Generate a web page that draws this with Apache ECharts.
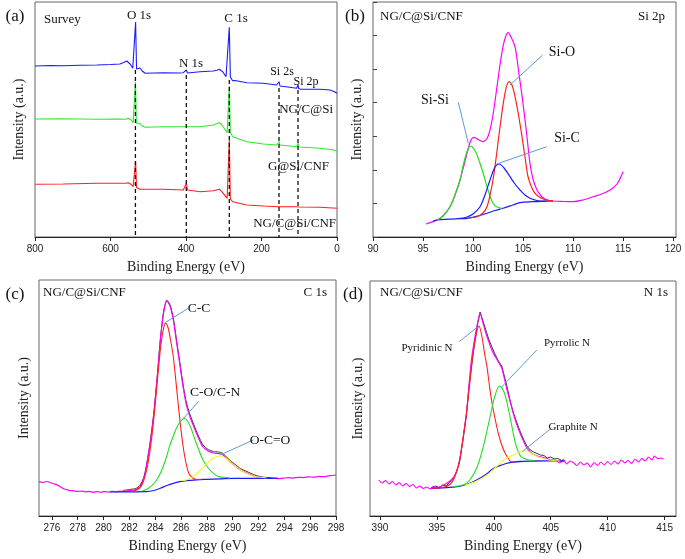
<!DOCTYPE html>
<html>
<head>
<meta charset="utf-8">
<script src="https://cdn.jsdelivr.net/npm/echarts@6/dist/echarts.min.js"></script>
<style>html,body{margin:0;padding:0;background:#fff}#c{width:685px;height:559px}</style>
</head>
<body>
<div id="c"></div>
<script>
// ---------- Panel (a) Survey: [binding energy, intensity] ----------
const surveyBlue = [[800,171],[760,171.5],[725,171.3],[680,171.8],[636,172],[600,172.5],[575,173],[565,174.5],[557,176],[548,173],[541,168.7],[536,170],[533.5,215],[531,168],[528,168.5],[522,169],[516,166],[508,163.7],[460,164.3],[420,164],[407,164.3],[402,165],[399,167],[396,164],[391,163.7],[363,165.3],[328,166],[318,166.8],[311.8,167.7],[302.8,165.3],[294,160.3],[289,162],[285.3,209.7],[282.5,160],[281.8,158.7],[276.5,156.3],[270,156.5],[239,154.3],[195,153.7],[160,152],[156,152.5],[153.6,155.3],[151,151],[130,150],[107,148.7],[104.5,149.5],[103.3,152],[101.5,148.5],[96,147.7],[45,147.7],[18.5,147],[8,145.5],[0,143.7]];
const surveyGreen = [[800,118],[725,118.2],[637,117.7],[580,117.9],[560,117.7],[553,118.7],[545,117],[540,114.3],[536,115],[534,155],[531.5,114],[529,113],[522,113.5],[516,111],[508,109.7],[460,110.3],[400,110.3],[391,110.3],[363,110.3],[328,112],[311,114.3],[305,112],[291,104.3],[288,106],[285.3,151],[282.5,104.5],[281,103.7],[276,100.3],[272,101],[239,95.3],[195,93],[160,92],[156,92.3],[153.6,95.3],[151,92],[107,90.3],[104.5,90.5],[103.3,93.7],[101.5,90],[45,88.7],[18,87.5],[0,86.3]];
const surveyRed = [[800,52.7],[725,53],[637,53.7],[560,53.7],[553,54.3],[545,52.5],[540,50.3],[536,51],[533.5,76],[531,49.5],[529,48.7],[522,47.7],[460,47.7],[407,47],[402,47.2],[399,53.7],[396,47],[391,47],[363,45.3],[328,46.3],[311,47.7],[305,45.3],[291,38.7],[288,40],[285.3,97],[282.5,38],[281,37],[276.5,35.3],[273,36],[239,32],[195,31],[156,30.3],[153.6,31],[151,30.3],[107,30.3],[103.3,31.5],[101.5,30],[45,29.7],[0,28.7]];
// peak reference lines: [energy, top intensity]
const peakLines = [[534,167],[399.2,162],[285.3,157],[153.6,149],[103.3,147]];

// ---------- Panel (b) Si 2p ----------
const si2pEnvelope = [[95.3,13],[96.4,17],[97,21],[97.7,30.3],[98.2,42],[98.7,57],[99.1,72],[99.4,83.7],[99.8,97],[100.1,99.7],[100.5,97.5],[101,95.3],[101.4,98.5],[101.7,107],[102,122],[102.4,150.3],[102.7,172],[103,190.3],[103.25,200],[103.5,204.3],[103.8,200],[104.2,190.3],[104.6,163],[105,133.7],[105.4,100],[105.7,73.7],[106,58],[106.4,47],[106.9,40],[107.4,37],[108,36],[109,35.5],[110,35.3],[111,37],[112,40.3],[113,43.5],[113.7,47],[114.4,53],[115,65.3]];
const si2pSiSi = [[96.4,17],[97,21],[97.7,30.3],[98.2,42],[98.7,57],[99.1,75],[99.5,88],[99.8,91],[100.1,88],[100.4,82],[100.7,73.7],[101.1,61],[101.4,50.3],[101.7,41],[102,33.7],[102.4,30],[102.9,28.7]];
const si2pSiO = [[99.5,19],[100.4,20.3],[101,24],[101.4,30.3],[101.7,42],[102,57],[102.35,82],[102.7,110],[103.2,143.7],[103.6,155.3],[103.9,152],[104.2,140.3],[104.55,122],[104.9,100.3],[105.2,80],[105.5,60.3],[105.85,50],[106.2,43.7],[106.8,39],[107.4,37],[108,36]];
const si2pSiC = [[98.5,18.3],[99.4,20],[100,23],[100.7,30.3],[101.2,42],[101.7,57],[102.2,70],[102.6,73],[103.1,69],[103.7,60.3],[104.2,53],[104.7,47],[105.2,42],[105.7,38.7],[106.2,37],[106.7,36],[107.3,36]];
const si2pBaseline = [[96,16],[96.4,17],[97.5,17.8],[98.5,18.3],[99.4,18.7],[100.5,21],[101.4,23.7],[102.2,26.5],[103,28.7],[104,32],[104.7,34.3],[106,35.3],[107,35.7],[108,36]];

// ---------- Panel (c) C 1s ----------
const c1sEnvelope = [[275,34.3],[275.3,33.5],[275.6,34.5],[275.9,33.2],[276.2,32],[276.5,30.5],[276.8,28],[277.1,26.5],[277.4,25.5],[277.7,25.2],[278,24.6],[278.3,24.9],[278.6,24.2],[278.9,24.6],[279.2,23.8],[279.5,24.3],[279.8,23.7],[280.1,24.4],[280.4,24.0],[280.7,24.6],[281,24.3],[281.3,24.8],[281.6,24.6],[281.9,25.2],[282.2,25.5],[282.5,26.5],[282.8,29],[283.1,37],[283.3,48],[283.6,72],[283.9,103],[284.2,145],[284.4,176],[284.65,203],[284.9,215],[285.15,210],[285.4,196],[285.65,174],[285.9,152],[286.15,130],[286.4,112],[286.7,99],[287,89],[287.35,78],[287.7,69],[288.1,65],[288.5,63],[288.9,62.5],[289.2,61.5],[289.5,58],[289.8,54],[290.2,50],[290.6,46],[291.1,43],[291.6,40],[292.1,38.5],[292.6,37.7],[293.1,37.9],[293.5,37.4],[293.9,37.8],[294.3,38.3],[294.7,37.9],[295.1,38.7],[295.5,38.4],[295.9,39.2],[296.3,38.8],[296.7,39.6],[297.1,39.3],[297.5,40.3],[298,41]];
const c1sData = [[281.5,25.5],[282,26.5],[282.5,27.5],[282.8,30.5],[283.1,38],[283.3,49],[283.6,73],[283.9,104],[284.2,146],[284.4,177],[284.65,205],[284.9,216],[285.15,211],[285.4,198],[285.65,176],[285.9,154],[286.15,132],[286.4,114],[286.7,101],[287,91],[287.35,80],[287.7,71],[288.1,66.5],[288.5,64.5],[288.9,64],[289.2,63],[289.5,59.5],[289.8,55.5],[290.2,51.5],[290.6,47.5],[291.1,44.5],[291.6,41.5],[292.1,39.5],[292.6,38.5],[293,38.5]];
const c1sCC = [[282.3,25],[282.8,28],[283.1,35],[283.4,50],[283.7,75],[283.95,105],[284.2,140],[284.45,172],[284.65,188],[284.8,192.7],[285,188],[285.2,175],[285.4,159.3],[285.6,135],[285.8,109.3],[286,86],[286.2,66],[286.4,52],[286.6,42.7],[286.9,38],[287.2,36.5],[287.6,36.6]];
const c1sCO = [[283,25],[283.5,28],[284,34],[284.4,42.7],[284.8,56],[285.1,69.3],[285.4,80],[285.7,89.3],[286,95],[286.25,97.7],[286.5,95],[286.8,87],[287,79.3],[287.35,67],[287.7,56],[288.1,48],[288.5,42.7],[288.9,39.5],[289.3,38.7],[289.8,38]];
const c1sOCO = [[286,35.5],[286.4,36],[287,40],[287.5,46],[287.9,51],[288.3,56],[288.7,59],[289,60],[289.4,58.5],[289.8,54],[290.2,50],[290.6,46],[291.1,42.5],[291.6,40],[292.1,38.7],[292.6,38]];
const c1sBaseline = [[280.5,24],[281,24],[282,24.1],[283.3,24.3],[283.9,25.5],[284.4,27.7],[284.9,30.5],[285.4,32.7],[285.9,34.3],[286.4,35.3],[287.2,36.2],[288,36.7],[289,37.2],[290.1,37.7],[291.5,37.7],[292.6,37.7],[293.5,37.8]];

// ---------- Panel (d) N 1s ----------
const n1sEnvelope = [[389.9,36],[390.2,33],[390.5,35.5],[390.8,32],[391.1,34.5],[391.4,31],[391.7,33.5],[392,30],[392.3,32.5],[392.6,29.5],[392.9,31.5],[393.2,28],[393.5,30],[393.8,27.5],[394.1,29],[394.4,27],[394.7,29.5],[395,28],[395.3,29.5],[395.6,31],[395.9,33],[396.2,35.5],[396.5,39.3],[396.8,47],[397,56],[397.3,78],[397.6,103],[397.8,128],[398,153],[398.25,173],[398.5,189],[398.8,203],[399.05,193],[399.3,183],[399.6,173],[399.9,164],[400.3,156],[400.7,148],[400.9,139],[401.1,129],[401.4,116],[401.7,103],[402,92],[402.3,83],[402.6,75],[402.9,68],[403.2,64],[403.5,61.5],[403.8,60],[404.1,59.3],[404.5,58],[404.9,56.5],[405.2,56],[405.5,55.3],[405.8,53],[406.1,56.5],[406.4,52],[406.7,55],[407,53.3],[407.3,50.5],[407.6,54],[407.9,51],[408.2,53],[408.5,49],[408.8,53.5],[409.1,50.5],[409.4,54],[409.7,51],[410,54.5],[410.3,51.5],[410.6,55],[410.9,52],[411.2,56],[411.5,53],[411.8,55.5],[412.1,52.5],[412.4,57],[412.7,54],[413,57.5],[413.3,55],[413.6,59],[413.9,56],[414.1,60],[414.4,57.5],[414.7,58],[414.9,56.7]];
const n1sData = [[394.6,28],[394.9,30],[395.2,28.5],[395.5,31],[395.8,30],[396.1,33.5],[396.4,36],[396.7,43],[397,54],[397.3,76],[397.6,101],[397.8,127],[398.05,150],[398.3,172],[398.55,190],[398.8,204],[399.05,195],[399.3,186],[399.55,177],[399.8,170],[400.1,162],[400.4,155],[400.7,150],[400.9,141],[401.15,130],[401.4,117],[401.7,104],[402,94],[402.3,85],[402.6,77],[402.9,70],[403.2,66],[403.5,64],[403.8,62.5],[404.1,61],[404.4,60.5],[404.7,58],[405,59],[405.3,57],[405.6,57.5],[405.9,56]];
const n1sPyridinic = [[394.5,27.7],[395.5,28.5],[396.2,32],[396.6,40],[397,56],[397.3,78],[397.6,103],[397.85,128],[398.1,155],[398.4,178],[398.7,190],[398.95,180],[399.2,162],[399.4,149.3],[399.6,132],[399.8,116],[400.1,98],[400.4,82.7],[400.7,71],[401,62.7],[401.3,57],[401.5,54.3],[401.8,54]];
const n1sPyrrolic = [[396.5,29.5],[397.3,31],[397.9,36],[398.5,48],[399,66],[399.4,85],[399.8,106],[400.1,120],[400.5,130],[400.9,124],[401.3,106],[401.6,89],[401.9,72.7],[402.2,63],[402.4,59.3],[402.8,57],[403.1,56],[403.6,55.5]];
const n1sGraphite = [[397.5,31],[398.5,35],[399.4,41],[400.2,49],[400.9,56],[401.5,60],[401.9,62],[402.3,64.5],[402.6,65.3],[403,64.5],[403.4,62],[403.9,59],[404.6,56.7],[405.2,55.5],[405.8,55]];
const n1sBaseline = [[394.5,27.7],[395.5,28.2],[396.8,29.3],[397.7,32],[398.5,36],[399.3,41.5],[400,47.7],[400.7,51],[401.4,53.3],[402.3,54.5],[403.4,55],[404.5,55.2],[405.3,55.2],[406.2,55]];

// annotation leader lines (data coordinates)
const leadersB = [[[106.97,182],[103.7,152]],[[98.53,134.7],[99.53,93.7]],[[107.37,90.3],[102.37,73]]];
const leadersC = [[[286.56,207.7],[284.76,193.3]],[[287.34,114.3],[286.13,96.7]],[[291.6,76],[289.02,61]]];
const leadersD = [[[396.95,174.3],[398.53,188.7]],[[403.78,166],[400.66,128.7]],[[405.04,87.7],[402.5,64.3]]];

// tick labels
const ticksA = [0,200,400,600,800];
const ticksB = [90,95,100,105,110,115,120];
const ticksC = [276,278,280,282,284,286,288,290,292,294,296,298];
const ticksD = [390,395,400,405,410,415];

const SERIF = 'Liberation Serif';
const SANS = 'Liberation Sans';
const chart = echarts.init(document.getElementById('c'), null, {renderer:'canvas'});

function xAx(idx, min, max, ticks, inverse){
  return {type:'value', gridIndex:idx, min:min, max:max, inverse:!!inverse,
    name:'Binding Energy (eV)', nameLocation:'middle', nameGap:23,
    nameTextStyle:{fontFamily:SERIF, fontSize:14, color:'#222'},
    axisLine:{show:true, onZero:false, lineStyle:{color:'#222', width:1}},
    axisTick:{show:true, length:4, inside:false, customValues:ticks, lineStyle:{color:'#222'}},
    axisLabel:{show:true, customValues:ticks, fontFamily:SANS, fontSize:10, color:'#222', margin:7},
    splitLine:{show:false}};
}
function yAx(idx, max, gap, ticks){
  return {type:'value', gridIndex:idx, min:0, max:max,
    interval: ticks ? max/7 : undefined,
    name:'Intensity (a.u.)', nameLocation:'middle', nameGap:gap,
    nameTextStyle:{fontFamily:SERIF, fontSize:14, color:'#222'},
    axisLine:{show:false},
    axisTick:{show:!!ticks, inside:true, length:4, lineStyle:{color:'#444'}},
    axisLabel:{show:false}, splitLine:{show:false}};
}
function ln(name, xi, data, color, w, smooth, extra){
  return Object.assign({type:'line', name:name, xAxisIndex:xi, yAxisIndex:xi, data:data,
    showSymbol:false, symbol:'none', smooth:smooth, animation:false, silent:true,
    lineStyle:{color:color, width:w}, z:3}, extra||{});
}
function leaders(xi, arr){
  return arr.map((seg,i)=>ln('lead'+xi+'_'+i, xi, seg, '#5b9bd5', 1, false, {z:4}));
}

const series = [
  ln('NG/C@Si', 0, surveyBlue, '#1a1aff', 1.1, false),
  ln('G@Si/CNF', 0, surveyGreen, '#2ee82e', 1.1, false),
  ln('NG/C@Si/CNF', 0, surveyRed, '#ff2020', 1.1, false),
  ...peakLines.map((p,i)=>ln('peak'+i, 0, [[p[0],p[1]],[p[0],0]], '#111', 1.3, false, {lineStyle:{color:'#111', width:1.3, type:[4,3]}, z:5})),

  ln('Si envelope', 1, si2pEnvelope, '#ff00ff', 1.2, 0.35),
  ln('Si baseline', 1, si2pBaseline, '#1a1aff', 1.2, 0.35),
  ln('Si-Si', 1, si2pSiSi, '#22dd22', 1.2, 0.35),
  ln('Si-O', 1, si2pSiO, '#ff2020', 1.2, 0.35),
  ln('Si-C', 1, si2pSiC, '#1a1aff', 1.2, 0.35),
  ...leaders(1, leadersB),

  ln('C data', 2, c1sData, '#333', 1, 0.2),
  ln('C envelope', 2, c1sEnvelope, '#ff00ff', 1.2, 0.3),
  ln('C baseline', 2, c1sBaseline, '#1a1aff', 1.2, 0.35),
  ln('C-C', 2, c1sCC, '#ff2020', 1.1, 0.35),
  ln('C-O/C-N', 2, c1sCO, '#22dd22', 1.1, 0.35),
  ln('O-C=O', 2, c1sOCO, '#f5f52a', 1.1, 0.35),
  ...leaders(2, leadersC),

  ln('N data', 3, n1sData, '#333', 1, false),
  ln('N envelope', 3, n1sEnvelope, '#ff00ff', 1.1, 0.2),
  ln('N baseline', 3, n1sBaseline, '#1a1aff', 1.3, 0.35),
  ln('Pyridinic N', 3, n1sPyridinic, '#ff2020', 1.1, 0.35),
  ln('Pyrrolic N', 3, n1sPyrrolic, '#22dd22', 1.1, 0.35),
  ln('Graphite N', 3, n1sGraphite, '#f5f52a', 1.1, 0.35),
  ...leaders(3, leadersD)
];

function txt(x, y, s, size, align){
  return {type:'text', left:undefined, x:x, y:y, z:10, silent:true,
    style:{text:s, x:0, y:0, fontFamily:SERIF, fontSize:size, fill:'#111',
      align:align||'center', verticalAlign:'middle'}};
}

const option = {
  backgroundColor:'#fff',
  animation:false,
  grid:[
    {left:35, top:2, width:302, height:235, show:true, borderColor:'#666', borderWidth:1, backgroundColor:'transparent'},
    {left:373, top:2, width:303, height:235, show:true, borderColor:'#666', borderWidth:1, backgroundColor:'transparent'},
    {left:39, top:280, width:297, height:236, show:true, borderColor:'#666', borderWidth:1, backgroundColor:'transparent'},
    {left:370, top:281, width:306, height:235, show:true, borderColor:'#666', borderWidth:1, backgroundColor:'transparent'}
  ],
  xAxis:[
    xAx(0, 0, 800, ticksA, true),
    xAx(1, 90, 120.3, ticksB),
    xAx(2, 275, 298, ticksC),
    xAx(3, 389.13, 416, ticksD)
  ],
  yAxis:[
    yAx(0, 235, 9),
    yAx(1, 235, 9, true),
    yAx(2, 236, 8),
    yAx(3, 235, 5)
  ],
  series: series,
  graphic:[
    txt(15, 17, '(a)', 17), txt(355, 17, '(b)', 17), txt(15, 295, '(c)', 17), txt(353, 295, '(d)', 17),
    txt(44, 20, 'Survey', 13, 'left'),
    txt(139, 16, 'O 1s', 13), txt(236, 19, 'C 1s', 13), txt(191, 64, 'N 1s', 13),
    txt(282, 71.5, 'Si 2s', 12), txt(306, 81.5, 'Si 2p', 12),
    txt(333, 110, 'NG/C@Si', 13, 'right'), txt(329, 167, 'G@Si/CNF', 13, 'right'), txt(336, 224, 'NG/C@Si/CNF', 13, 'right'),
    txt(380, 17, 'NG/C@Si/CNF', 13, 'left'), txt(665, 17, 'Si 2p', 13, 'right'),
    txt(562, 52, 'Si-O', 14), txt(435, 100, 'Si-Si', 14), txt(567, 138, 'Si-C', 14),
    txt(43, 293, 'NG/C@Si/CNF', 13, 'left'), txt(327, 293, 'C 1s', 13, 'right'),
    txt(199, 308, 'C-C', 13.5), txt(215, 392, 'C-O/C-N', 13.5), txt(270, 440, 'O-C=O', 13.5),
    txt(380, 293, 'NG/C@Si/CNF', 13, 'left'), txt(668, 293, 'N 1s', 13, 'right'),
    txt(427, 348, 'Pyridinic N', 11), txt(567, 343, 'Pyrrolic N', 11), txt(573, 427, 'Graphite N', 11)
  ]
};
chart.setOption(option);
</script>
</body>
</html>
